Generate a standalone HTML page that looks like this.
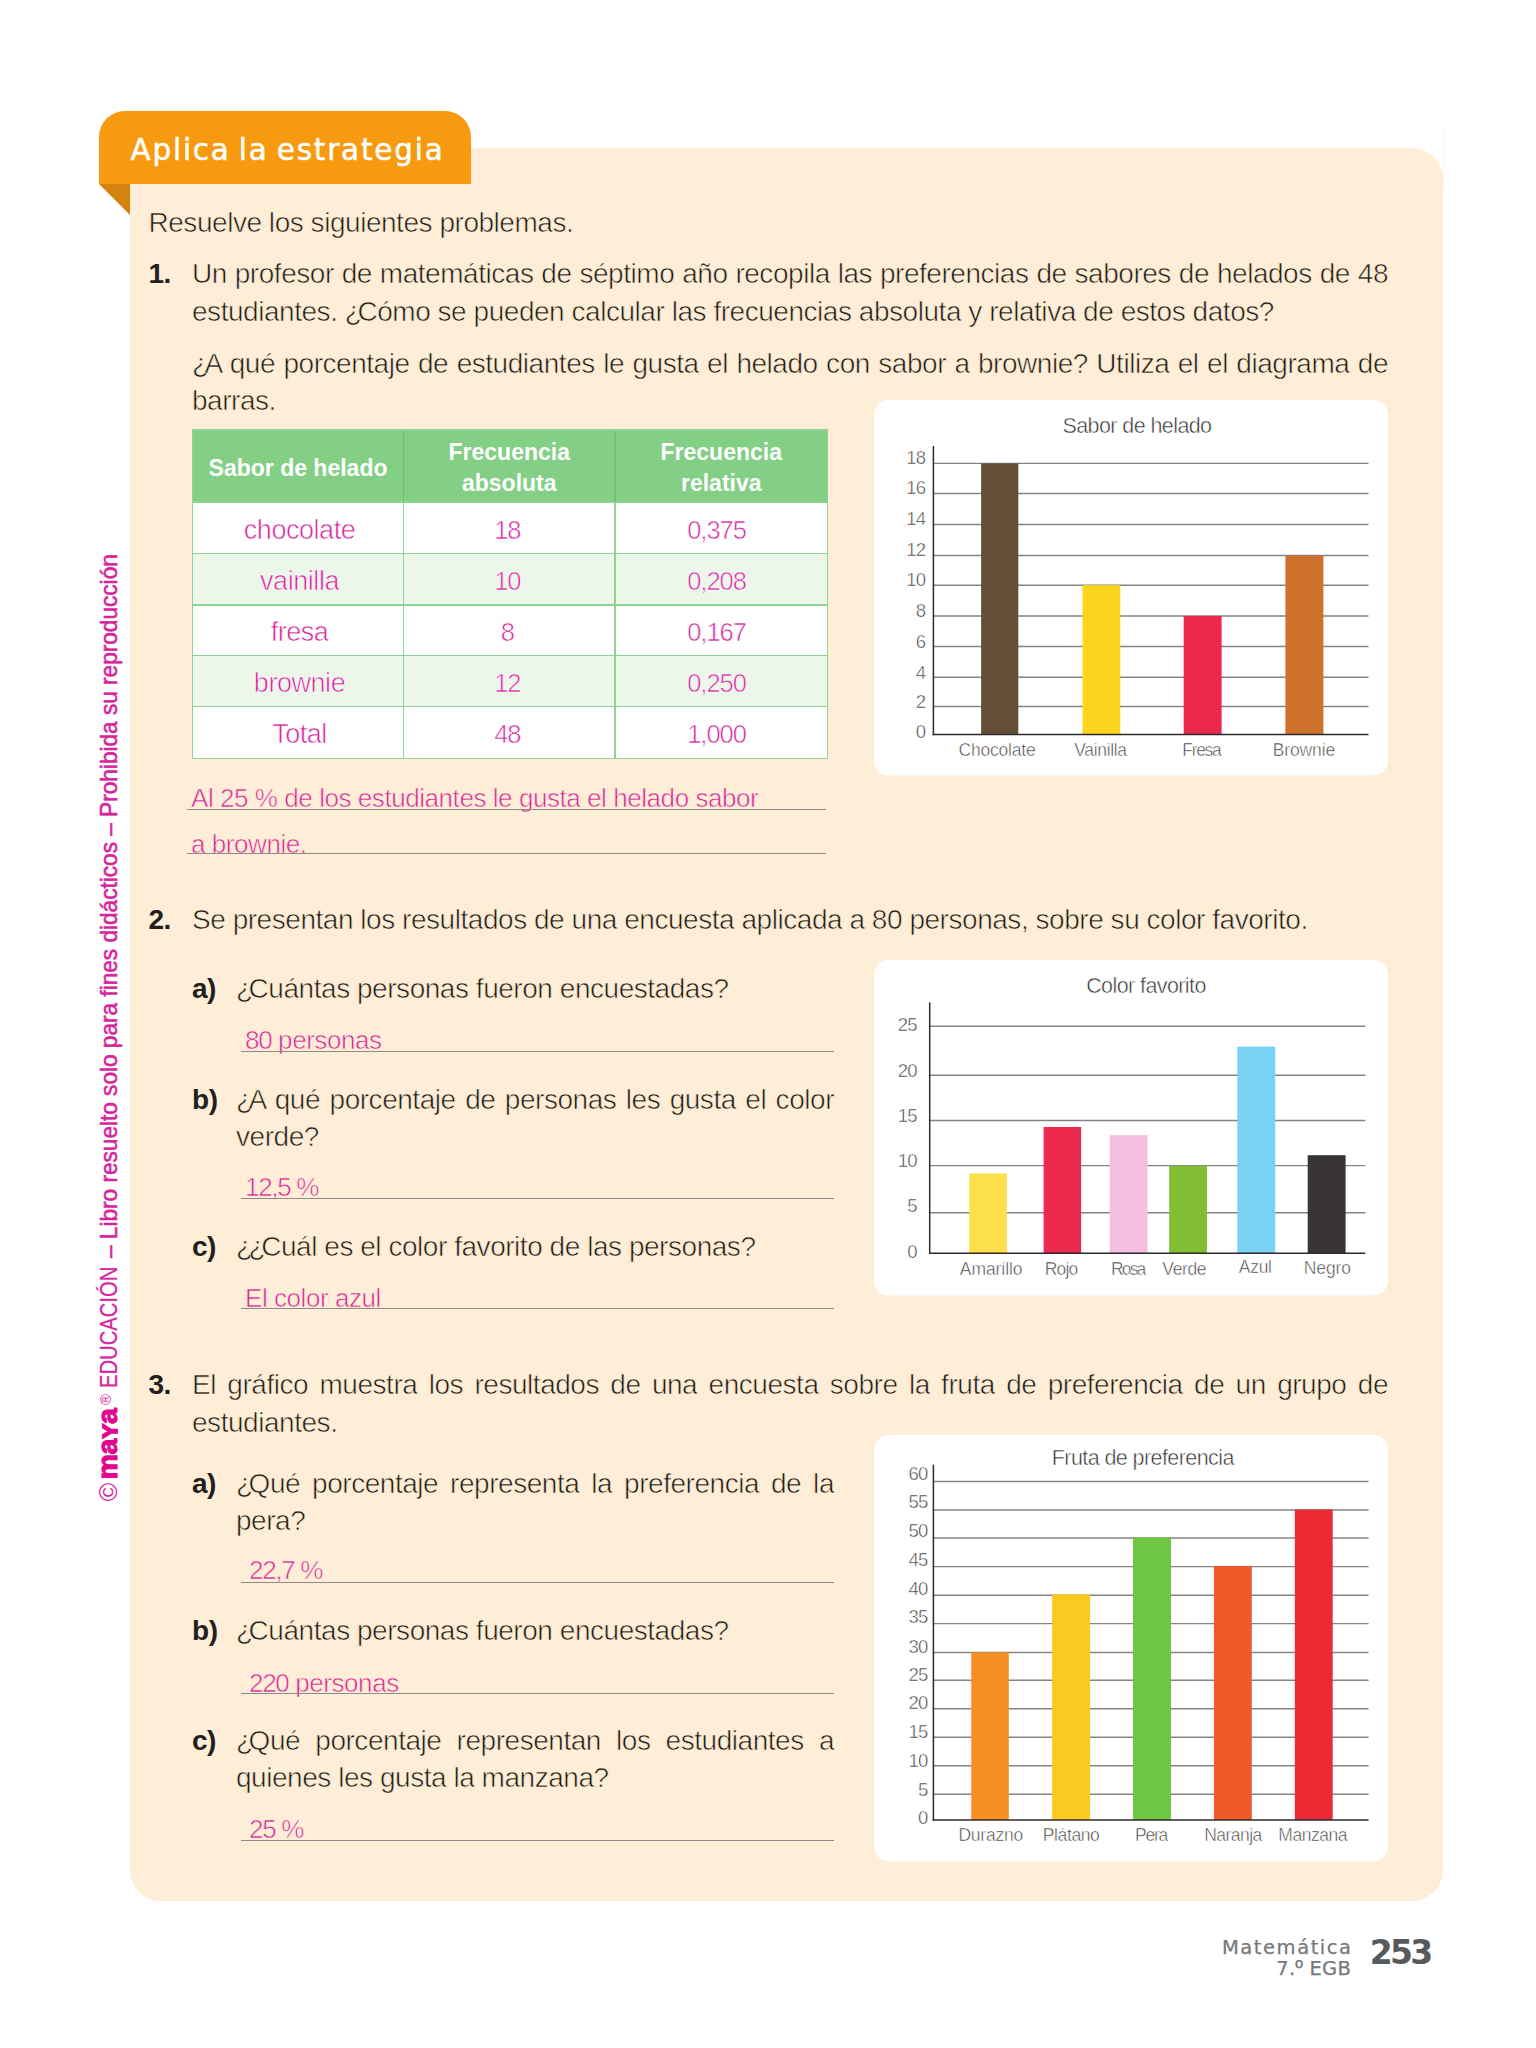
<!DOCTYPE html>
<html lang="es">
<head>
<meta charset="utf-8">
<title>Aplica la estrategia</title>
<style>
html,body{margin:0;padding:0;}
body{width:1536px;height:2048px;position:relative;overflow:hidden;background:#fff;font-family:"Liberation Sans",sans-serif;color:#1f1a19;}
.panel{position:absolute;left:130px;top:148px;width:1313px;height:1752.6px;background:#FEEED7;border-radius:0 31px 31px 31px;}
.tab{position:absolute;left:99px;top:111px;width:372px;height:73px;background:#F79A10;border-radius:26px 26px 0 0;}
.fold{position:absolute;left:99px;top:184px;width:0;height:0;border-style:solid;border-width:0 31px 31px 0;border-color:transparent #D4830F transparent transparent;}
.t.tabt{position:absolute;left:130.5px;top:0;color:#fff;font-family:"DejaVu Sans","Liberation Sans",sans-serif;white-space:nowrap;-webkit-text-stroke:0.5px #fff;}
.t{position:absolute;white-space:nowrap;-webkit-text-stroke:0.6px #FEEED7;}
.b,.hb{-webkit-text-stroke:0;}
.b{font-weight:bold;color:#231f20;}
.m{color:#D6249B;}
.c{text-align:center;}
.nm{letter-spacing:-1px;}
.dg{letter-spacing:-1.3px;}
.iq{letter-spacing:-4.5px;}
.c.m{-webkit-text-stroke-color:#fff;}
.hb{font-weight:bold;color:#fff;}
.ln,.bx{position:absolute;}
.ch{position:absolute;font-family:"Liberation Sans",sans-serif;}
.ct{stroke:#fff;stroke-width:0.5px;}
.ft{font-family:"DejaVu Sans","Liberation Sans",sans-serif;color:#77787b;-webkit-text-stroke:0.25px #77787b;}
.pg{font-family:"DejaVu Sans","Liberation Sans",sans-serif;font-weight:bold;color:#58595b;-webkit-text-stroke:0;}
.side{position:absolute;left:0;top:0;transform-origin:0 0;white-space:nowrap;color:#D6249B;}
</style>
</head>
<body>
<div class="panel"></div>
<div class="tab"></div>
<div class="fold"></div>
<div style="position:absolute;left:1443px;top:128px;width:1px;height:58px;background:#fdf3e8"></div>
<div class="t tabt" style="top:132.23px;font-size:29.4px;line-height:36px;letter-spacing:1.82px;word-spacing:-3px;">Aplica la estrategia</div>
<div class="side" style="left:0;top:1500.4px;width:1000px;height:140px;transform:rotate(-90deg);"><span class="" style="position:absolute;display:block;transform-origin:0 50%;left:-1.2px;top:93.34px;font-size:25px;line-height:30px;">©</span><span class="" style="position:absolute;display:block;transform-origin:0 50%;left:20.4px;top:90.12px;font-size:28.5px;line-height:34px;font-weight:bold;color:#E3068C;-webkit-text-stroke:1.1px #E3068C;letter-spacing:-0.3px;">ma<span style="font-size:21px;text-transform:uppercase;-webkit-text-stroke-width:1.9px;margin:0 0.6px 0 0.8px">y</span>a</span><span class="" style="position:absolute;display:block;transform-origin:0 50%;left:95.1px;top:97.30px;font-size:15px;line-height:18px;">®</span><span class="" style="position:absolute;display:block;transform-origin:0 50%;left:112.4px;top:94.18px;font-size:24px;line-height:29px;transform:scaleX(0.843);-webkit-text-stroke:0.2px #D6249B;">EDUCACIÓN</span><span class="" style="position:absolute;display:block;transform-origin:0 50%;left:241.8px;top:94.18px;font-size:24px;line-height:29px;transform:scaleX(0.942);-webkit-text-stroke:0.55px #D6249B;">– Libro resuelto solo para fines didácticos – Prohibida su reproducción</span></div>
<div class="t " style="left:148.5px;top:206.00px;font-size:28px;line-height:34px;letter-spacing:-0.46px;">Resuelve los siguientes problemas.</div>
<div class="t b" style="left:148.5px;top:257.30px;font-size:28px;line-height:34px;letter-spacing:-0.46px;">1.</div>
<div class="t " style="left:192px;top:257.30px;font-size:28px;line-height:34px;letter-spacing:-0.46px;width:1196px;text-align:justify;text-align-last:justify;">Un profesor de matemáticas de séptimo año recopila las preferencias de sabores de helados de 48</div>
<div class="t " style="left:192px;top:294.80px;font-size:28px;line-height:34px;letter-spacing:-0.46px;">estudiantes. <span class="iq">¿</span>Cómo se pueden calcular las frecuencias absoluta y relativa de estos datos?</div>
<div class="t " style="left:192px;top:346.80px;font-size:28px;line-height:34px;letter-spacing:-0.46px;width:1196px;text-align:justify;text-align-last:justify;"><span class="iq">¿</span>A qué porcentaje de estudiantes le gusta el helado con sabor a brownie? Utiliza el el diagrama de</div>
<div class="t " style="left:192px;top:383.80px;font-size:28px;line-height:34px;letter-spacing:-0.46px;">barras.</div>
<div class="t m" style="left:191px;top:782.99px;font-size:26px;line-height:31px;letter-spacing:-0.44px;">Al 25 % de los estudiantes le gusta el helado sabor</div>
<div class="ln" style="left:187px;top:809px;width:639px;height:1.25px;background:#8d8a87"></div>
<div class="t m" style="left:191px;top:828.79px;font-size:26px;line-height:31px;letter-spacing:-0.44px;">a brownie.</div>
<div class="ln" style="left:187px;top:853px;width:639px;height:1.25px;background:#8d8a87"></div>
<div class="t b" style="left:148.5px;top:903.30px;font-size:28px;line-height:34px;letter-spacing:-0.46px;">2.</div>
<div class="t " style="left:192px;top:903.30px;font-size:28px;line-height:34px;letter-spacing:-0.46px;">Se presentan los resultados de una encuesta aplicada a 80 personas, sobre su color favorito.</div>
<div class="t b" style="left:192px;top:972.30px;font-size:28px;line-height:34px;letter-spacing:-0.46px;">a)</div>
<div class="t " style="left:236px;top:972.30px;font-size:28px;line-height:34px;letter-spacing:-0.46px;"><span class="iq">¿</span>Cuántas personas fueron encuestadas?</div>
<div class="t m" style="left:245px;top:1025.49px;font-size:26px;line-height:31px;letter-spacing:-0.44px;"><span class="dg">80</span> personas</div>
<div class="ln" style="left:240.5px;top:1051px;width:593.5px;height:1.25px;background:#8d8a87"></div>
<div class="t b" style="left:192px;top:1083.30px;font-size:28px;line-height:34px;letter-spacing:-0.46px;">b)</div>
<div class="t " style="left:236px;top:1083.30px;font-size:28px;line-height:34px;letter-spacing:-0.46px;width:598px;text-align:justify;text-align-last:justify;"><span class="iq">¿</span>A qué porcentaje de personas les gusta el color</div>
<div class="t " style="left:236px;top:1119.80px;font-size:28px;line-height:34px;letter-spacing:-0.46px;">verde?</div>
<div class="t m" style="left:245px;top:1171.99px;font-size:26px;line-height:31px;letter-spacing:-0.44px;"><span class="dg">12,5 %</span></div>
<div class="ln" style="left:240.5px;top:1198px;width:593.5px;height:1.25px;background:#8d8a87"></div>
<div class="t b" style="left:192px;top:1230.30px;font-size:28px;line-height:34px;letter-spacing:-0.46px;">c)</div>
<div class="t " style="left:236px;top:1230.30px;font-size:28px;line-height:34px;letter-spacing:-0.46px;"><span class="iq">¿</span><span class="iq">¿</span>Cuál es el color favorito de las personas?</div>
<div class="t m" style="left:245px;top:1283.49px;font-size:26px;line-height:31px;letter-spacing:-0.44px;">El color azul</div>
<div class="ln" style="left:240.5px;top:1308px;width:593.5px;height:1.25px;background:#8d8a87"></div>
<div class="t b" style="left:148.5px;top:1368.30px;font-size:28px;line-height:34px;letter-spacing:-0.46px;">3.</div>
<div class="t " style="left:192px;top:1368.30px;font-size:28px;line-height:34px;letter-spacing:-0.46px;width:1196px;text-align:justify;text-align-last:justify;">El gráfico muestra los resultados de una encuesta sobre la fruta de preferencia de un grupo de</div>
<div class="t " style="left:192px;top:1405.80px;font-size:28px;line-height:34px;letter-spacing:-0.46px;">estudiantes.</div>
<div class="t b" style="left:192px;top:1466.80px;font-size:28px;line-height:34px;letter-spacing:-0.46px;">a)</div>
<div class="t " style="left:236px;top:1466.80px;font-size:28px;line-height:34px;letter-spacing:-0.46px;width:598px;text-align:justify;text-align-last:justify;"><span class="iq">¿</span>Qué porcentaje representa la preferencia de la</div>
<div class="t " style="left:236px;top:1504.30px;font-size:28px;line-height:34px;letter-spacing:-0.46px;">pera?</div>
<div class="t m" style="left:249px;top:1555.49px;font-size:26px;line-height:31px;letter-spacing:-0.44px;"><span class="dg">22,7 %</span></div>
<div class="ln" style="left:240.5px;top:1582px;width:593.5px;height:1.25px;background:#8d8a87"></div>
<div class="t b" style="left:192px;top:1614.30px;font-size:28px;line-height:34px;letter-spacing:-0.46px;">b)</div>
<div class="t " style="left:236px;top:1614.30px;font-size:28px;line-height:34px;letter-spacing:-0.46px;"><span class="iq">¿</span>Cuántas personas fueron encuestadas?</div>
<div class="t m" style="left:249px;top:1667.99px;font-size:26px;line-height:31px;letter-spacing:-0.44px;"><span class="dg">220</span> personas</div>
<div class="ln" style="left:240.5px;top:1693px;width:593.5px;height:1.25px;background:#8d8a87"></div>
<div class="t b" style="left:192px;top:1724.30px;font-size:28px;line-height:34px;letter-spacing:-0.46px;">c)</div>
<div class="t " style="left:236px;top:1724.30px;font-size:28px;line-height:34px;letter-spacing:-0.46px;width:598px;text-align:justify;text-align-last:justify;"><span class="iq">¿</span>Qué porcentaje representan los estudiantes a</div>
<div class="t " style="left:236px;top:1760.80px;font-size:28px;line-height:34px;letter-spacing:-0.46px;">quienes les gusta la manzana?</div>
<div class="t m" style="left:249px;top:1814.49px;font-size:26px;line-height:31px;letter-spacing:-0.44px;"><span class="dg">25 %</span></div>
<div class="ln" style="left:240.5px;top:1840px;width:593.5px;height:1.25px;background:#8d8a87"></div>
<div class="bx" style="left:192.6px;top:430px;width:634.9px;height:72px;background:#82CF85"></div>
<div class="bx" style="left:192.6px;top:502px;width:634.9px;height:51.5px;background:#fff"></div>
<div class="bx" style="left:192.6px;top:553.5px;width:634.9px;height:51.5px;background:#ECF7EA"></div>
<div class="bx" style="left:192.6px;top:605px;width:634.9px;height:50.5px;background:#fff"></div>
<div class="bx" style="left:192.6px;top:655.5px;width:634.9px;height:51.0px;background:#ECF7EA"></div>
<div class="bx" style="left:192.6px;top:706.5px;width:634.9px;height:52.0px;background:#fff"></div>
<div class="bx" style="left:191.6px;top:501.2px;width:636.5px;height:1.6px;background:#8ed391"></div>
<div class="bx" style="left:191.6px;top:552.7px;width:636.5px;height:1.6px;background:#8ed391"></div>
<div class="bx" style="left:191.6px;top:604.2px;width:636.5px;height:1.6px;background:#8ed391"></div>
<div class="bx" style="left:191.6px;top:654.7px;width:636.5px;height:1.6px;background:#8ed391"></div>
<div class="bx" style="left:191.6px;top:705.7px;width:636.5px;height:1.6px;background:#8ed391"></div>
<div class="bx" style="left:191.6px;top:757.7px;width:636.5px;height:1.6px;background:#8ed391"></div>
<div class="bx" style="left:191.79999999999998px;top:502px;width:1.6px;height:256.5px;background:#8ed391"></div>
<div class="bx" style="left:402.7px;top:502px;width:1.6px;height:256.5px;background:#8ed391"></div>
<div class="bx" style="left:614.2px;top:502px;width:1.6px;height:256.5px;background:#8ed391"></div>
<div class="bx" style="left:826.7px;top:502px;width:1.6px;height:256.5px;background:#8ed391"></div>
<div class="bx" style="left:402.7px;top:430px;width:1.6px;height:72px;background:#6fc173"></div>
<div class="bx" style="left:614.2px;top:430px;width:1.6px;height:72px;background:#6fc173"></div>
<div class="bx" style="left:191.79999999999998px;top:429.2px;width:636.5px;height:1.6px;background:#8ed391"></div>
<div class="bx" style="left:191.79999999999998px;top:430px;width:1.6px;height:72px;background:#8ed391"></div>
<div class="bx" style="left:826.7px;top:430px;width:1.6px;height:72px;background:#8ed391"></div>
<div class="t hb c" style="left:192.6px;top:454.03px;font-size:23px;line-height:28px;width:210.9px;">Sabor de helado</div>
<div class="t hb c" style="left:403.5px;top:438.03px;font-size:23px;line-height:28px;width:211.5px;">Frecuencia</div>
<div class="t hb c" style="left:403.5px;top:469.03px;font-size:23px;line-height:28px;width:211.5px;">absoluta</div>
<div class="t hb c" style="left:615px;top:438.03px;font-size:23px;line-height:28px;width:212.5px;">Frecuencia</div>
<div class="t hb c" style="left:615px;top:469.03px;font-size:23px;line-height:28px;width:212.5px;">relativa</div>
<div class="t m c" style="left:194.1px;top:514.14px;font-size:27px;line-height:32px;letter-spacing:-0.45px;width:210.9px;">chocolate</div>
<div class="t m nm c" style="left:401.6px;top:515.16px;font-size:25.5px;line-height:31px;width:211.5px;">18</div>
<div class="t m nm c" style="left:610.3px;top:515.16px;font-size:25.5px;line-height:31px;width:212.5px;">0,375</div>
<div class="t m c" style="left:194.1px;top:565.14px;font-size:27px;line-height:32px;letter-spacing:-0.45px;width:210.9px;">vainilla</div>
<div class="t m nm c" style="left:401.6px;top:566.16px;font-size:25.5px;line-height:31px;width:211.5px;">10</div>
<div class="t m nm c" style="left:610.3px;top:566.16px;font-size:25.5px;line-height:31px;width:212.5px;">0,208</div>
<div class="t m c" style="left:194.1px;top:616.14px;font-size:27px;line-height:32px;letter-spacing:-0.45px;width:210.9px;">fresa</div>
<div class="t m nm c" style="left:401.6px;top:617.16px;font-size:25.5px;line-height:31px;width:211.5px;">8</div>
<div class="t m nm c" style="left:610.3px;top:617.16px;font-size:25.5px;line-height:31px;width:212.5px;">0,167</div>
<div class="t m c" style="left:194.1px;top:667.14px;font-size:27px;line-height:32px;letter-spacing:-0.45px;width:210.9px;">brownie</div>
<div class="t m nm c" style="left:401.6px;top:668.16px;font-size:25.5px;line-height:31px;width:211.5px;">12</div>
<div class="t m nm c" style="left:610.3px;top:668.16px;font-size:25.5px;line-height:31px;width:212.5px;">0,250</div>
<div class="t m c" style="left:194.1px;top:718.14px;font-size:27px;line-height:32px;letter-spacing:-0.45px;width:210.9px;">Total</div>
<div class="t m nm c" style="left:401.6px;top:719.16px;font-size:25.5px;line-height:31px;width:211.5px;">48</div>
<div class="t m nm c" style="left:610.3px;top:719.16px;font-size:25.5px;line-height:31px;width:212.5px;">1,000</div>
<svg class="ch" style="left:874px;top:400px" width="514" height="375.6" viewBox="874 400 514 375.6"><rect x="874" y="400" width="514" height="375.6" rx="15" ry="15" fill="#fff"/><line x1="933.4" y1="463.4" x2="1368.5" y2="463.4" stroke="#858283" stroke-width="1.45"/><line x1="933.4" y1="493.6" x2="1368.5" y2="493.6" stroke="#858283" stroke-width="1.45"/><line x1="933.4" y1="524.6" x2="1368.5" y2="524.6" stroke="#858283" stroke-width="1.45"/><line x1="933.4" y1="555.6" x2="1368.5" y2="555.6" stroke="#858283" stroke-width="1.45"/><line x1="933.4" y1="585.2" x2="1368.5" y2="585.2" stroke="#858283" stroke-width="1.45"/><line x1="933.4" y1="616" x2="1368.5" y2="616" stroke="#858283" stroke-width="1.45"/><line x1="933.4" y1="646.6" x2="1368.5" y2="646.6" stroke="#858283" stroke-width="1.45"/><line x1="933.4" y1="677.3" x2="1368.5" y2="677.3" stroke="#858283" stroke-width="1.45"/><line x1="933.4" y1="706.6" x2="1368.5" y2="706.6" stroke="#858283" stroke-width="1.45"/><rect x="981.1" y="463.4" width="37.2" height="271.1" fill="#644F36"/><rect x="1082.4" y="585.2" width="37.9" height="149.3" fill="#FDD51E"/><rect x="1183.7" y="616" width="37.9" height="118.5" fill="#EC294C"/><rect x="1285.4" y="555.6" width="38.0" height="178.9" fill="#CE712D"/><line x1="933.4" y1="445.9" x2="933.4" y2="735.2" stroke="#2f2b2c" stroke-width="1.5"/><line x1="932.65" y1="734.5" x2="1368.5" y2="734.5" stroke="#2f2b2c" stroke-width="1.5"/><text class="ct" x="1137" y="433.1" text-anchor="middle" font-size="21.5" letter-spacing="-0.58" fill="#332f30">Sabor de helado</text><text class="ct" x="925.1" y="464.1" text-anchor="end" font-size="18.6" letter-spacing="-0.9" fill="#3d393a">18</text><text class="ct" x="925.1" y="494.3" text-anchor="end" font-size="18.6" letter-spacing="-0.9" fill="#3d393a">16</text><text class="ct" x="925.1" y="525.3" text-anchor="end" font-size="18.6" letter-spacing="-0.9" fill="#3d393a">14</text><text class="ct" x="925.1" y="556.5" text-anchor="end" font-size="18.6" letter-spacing="-0.9" fill="#3d393a">12</text><text class="ct" x="925.1" y="586.2" text-anchor="end" font-size="18.6" letter-spacing="-0.9" fill="#3d393a">10</text><text class="ct" x="925.1" y="617.1" text-anchor="end" font-size="18.6" letter-spacing="-0.9" fill="#3d393a">8</text><text class="ct" x="925.1" y="647.8" text-anchor="end" font-size="18.6" letter-spacing="-0.9" fill="#3d393a">6</text><text class="ct" x="925.1" y="678.6" text-anchor="end" font-size="18.6" letter-spacing="-0.9" fill="#3d393a">4</text><text class="ct" x="925.1" y="708.0" text-anchor="end" font-size="18.6" letter-spacing="-0.9" fill="#3d393a">2</text><text class="ct" x="925.1" y="737.9" text-anchor="end" font-size="18.6" letter-spacing="-0.9" fill="#3d393a">0</text><text class="ct" x="997.1" y="755.8" text-anchor="middle" font-size="17.5" textLength="77.1" fill="#3d393a">Chocolate</text><text class="ct" x="1100.7" y="755.8" text-anchor="middle" font-size="17.5" textLength="52.8" fill="#3d393a">Vainilla</text><text class="ct" x="1202" y="755.8" text-anchor="middle" font-size="17.5" textLength="39.4" fill="#3d393a">Fresa</text><text class="ct" x="1304" y="755.8" text-anchor="middle" font-size="17.5" textLength="62.4" fill="#3d393a">Brownie</text></svg>
<svg class="ch" style="left:874px;top:960px" width="514" height="335.5999999999999" viewBox="874 960 514 335.5999999999999"><rect x="874" y="960" width="514" height="335.5999999999999" rx="15" ry="15" fill="#fff"/><line x1="929.7" y1="1026.2" x2="1365.3" y2="1026.2" stroke="#858283" stroke-width="1.45"/><line x1="929.7" y1="1075.3" x2="1365.3" y2="1075.3" stroke="#858283" stroke-width="1.45"/><line x1="929.7" y1="1120.5" x2="1365.3" y2="1120.5" stroke="#858283" stroke-width="1.45"/><line x1="929.7" y1="1165.65" x2="1365.3" y2="1165.65" stroke="#858283" stroke-width="1.45"/><line x1="929.7" y1="1212.7" x2="1365.3" y2="1212.7" stroke="#858283" stroke-width="1.45"/><rect x="969.2" y="1173.5" width="37.7" height="79.8" fill="#FDDF49"/><rect x="1043.6" y="1127" width="37.5" height="126.3" fill="#EC2A4E"/><rect x="1109.7" y="1135.2" width="37.9" height="118.1" fill="#F3BEDF"/><rect x="1169.2" y="1165.8" width="37.8" height="87.5" fill="#81BE34"/><rect x="1237.3" y="1046.6" width="37.9" height="206.7" fill="#79D1F3"/><rect x="1307.7" y="1155.2" width="37.9" height="98.1" fill="#393536"/><line x1="929.7" y1="1002.4" x2="929.7" y2="1254.0" stroke="#2f2b2c" stroke-width="1.5"/><line x1="928.95" y1="1253.3" x2="1365.3" y2="1253.3" stroke="#2f2b2c" stroke-width="1.5"/><text class="ct" x="1146" y="993.2" text-anchor="middle" font-size="21.5" letter-spacing="-0.58" fill="#332f30">Color favorito</text><text class="ct" x="916.7" y="1031.4" text-anchor="end" font-size="18.6" letter-spacing="-0.9" fill="#3d393a">25</text><text class="ct" x="916.7" y="1076.6" text-anchor="end" font-size="18.6" letter-spacing="-0.9" fill="#3d393a">20</text><text class="ct" x="916.7" y="1121.8" text-anchor="end" font-size="18.6" letter-spacing="-0.9" fill="#3d393a">15</text><text class="ct" x="916.7" y="1167.0" text-anchor="end" font-size="18.6" letter-spacing="-0.9" fill="#3d393a">10</text><text class="ct" x="916.7" y="1212.3" text-anchor="end" font-size="18.6" letter-spacing="-0.9" fill="#3d393a">5</text><text class="ct" x="916.7" y="1257.8" text-anchor="end" font-size="18.6" letter-spacing="-0.9" fill="#3d393a">0</text><text class="ct" x="991.2" y="1275" text-anchor="middle" font-size="17.5" textLength="62.8" fill="#3d393a">Amarillo</text><text class="ct" x="1061.5" y="1275" text-anchor="middle" font-size="17.5" textLength="33.4" fill="#3d393a">Rojo</text><text class="ct" x="1128.6" y="1275" text-anchor="middle" font-size="17.5" textLength="35.4" fill="#3d393a">Rosa</text><text class="ct" x="1184.4" y="1275" text-anchor="middle" font-size="17.5" textLength="44.1" fill="#3d393a">Verde</text><text class="ct" x="1255.4" y="1273.5" text-anchor="middle" font-size="17.5" textLength="33.2" fill="#3d393a">Azul</text><text class="ct" x="1327.4" y="1274.5" text-anchor="middle" font-size="17.5" textLength="47.1" fill="#3d393a">Negro</text></svg>
<svg class="ch" style="left:874px;top:1435px" width="514" height="426.5" viewBox="874 1435 514 426.5"><rect x="874" y="1435" width="514" height="426.5" rx="15" ry="15" fill="#fff"/><line x1="933.4" y1="1481.4" x2="1368.6" y2="1481.4" stroke="#858283" stroke-width="1.45"/><line x1="933.4" y1="1509.9" x2="1368.6" y2="1509.9" stroke="#858283" stroke-width="1.45"/><line x1="933.4" y1="1537.9" x2="1368.6" y2="1537.9" stroke="#858283" stroke-width="1.45"/><line x1="933.4" y1="1566.6" x2="1368.6" y2="1566.6" stroke="#858283" stroke-width="1.45"/><line x1="933.4" y1="1595.2" x2="1368.6" y2="1595.2" stroke="#858283" stroke-width="1.45"/><line x1="933.4" y1="1623.6" x2="1368.6" y2="1623.6" stroke="#858283" stroke-width="1.45"/><line x1="933.4" y1="1652.4" x2="1368.6" y2="1652.4" stroke="#858283" stroke-width="1.45"/><line x1="933.4" y1="1680.2" x2="1368.6" y2="1680.2" stroke="#858283" stroke-width="1.45"/><line x1="933.4" y1="1708.7" x2="1368.6" y2="1708.7" stroke="#858283" stroke-width="1.45"/><line x1="933.4" y1="1737.2" x2="1368.6" y2="1737.2" stroke="#858283" stroke-width="1.45"/><line x1="933.4" y1="1765.7" x2="1368.6" y2="1765.7" stroke="#858283" stroke-width="1.45"/><line x1="933.4" y1="1794.2" x2="1368.6" y2="1794.2" stroke="#858283" stroke-width="1.45"/><rect x="971.3" y="1652.4" width="37.5" height="167.6" fill="#F68E22"/><rect x="1052.1" y="1594.4" width="38.0" height="225.6" fill="#FACA21"/><rect x="1133" y="1537.6" width="38.0" height="282.4" fill="#70C743"/><rect x="1213.9" y="1566" width="37.9" height="254.0" fill="#F05A2A"/><rect x="1294.8" y="1509.5" width="37.9" height="310.5" fill="#EC2A34"/><line x1="933.4" y1="1464.7" x2="933.4" y2="1820.7" stroke="#2f2b2c" stroke-width="1.5"/><line x1="932.65" y1="1820" x2="1368.6" y2="1820" stroke="#2f2b2c" stroke-width="1.5"/><text class="ct" x="1142.8" y="1464.5" text-anchor="middle" font-size="21.5" letter-spacing="-0.58" fill="#332f30">Fruta de preferencia</text><text class="ct" x="927.5" y="1479.5" text-anchor="end" font-size="18.6" letter-spacing="-0.9" fill="#3d393a">60</text><text class="ct" x="927.5" y="1508.3" text-anchor="end" font-size="18.6" letter-spacing="-0.9" fill="#3d393a">55</text><text class="ct" x="927.5" y="1536.7" text-anchor="end" font-size="18.6" letter-spacing="-0.9" fill="#3d393a">50</text><text class="ct" x="927.5" y="1565.7" text-anchor="end" font-size="18.6" letter-spacing="-0.9" fill="#3d393a">45</text><text class="ct" x="927.5" y="1594.6" text-anchor="end" font-size="18.6" letter-spacing="-0.9" fill="#3d393a">40</text><text class="ct" x="927.5" y="1623.3" text-anchor="end" font-size="18.6" letter-spacing="-0.9" fill="#3d393a">35</text><text class="ct" x="927.5" y="1652.5" text-anchor="end" font-size="18.6" letter-spacing="-0.9" fill="#3d393a">30</text><text class="ct" x="927.5" y="1680.6" text-anchor="end" font-size="18.6" letter-spacing="-0.9" fill="#3d393a">25</text><text class="ct" x="927.5" y="1709.4" text-anchor="end" font-size="18.6" letter-spacing="-0.9" fill="#3d393a">20</text><text class="ct" x="927.5" y="1738.3" text-anchor="end" font-size="18.6" letter-spacing="-0.9" fill="#3d393a">15</text><text class="ct" x="927.5" y="1767.1" text-anchor="end" font-size="18.6" letter-spacing="-0.9" fill="#3d393a">10</text><text class="ct" x="927.5" y="1795.9" text-anchor="end" font-size="18.6" letter-spacing="-0.9" fill="#3d393a">5</text><text class="ct" x="927.5" y="1824.3" text-anchor="end" font-size="18.6" letter-spacing="-0.9" fill="#3d393a">0</text><text class="ct" x="990.8" y="1841" text-anchor="middle" font-size="17.5" textLength="64.8" fill="#3d393a">Durazno</text><text class="ct" x="1071.3" y="1841" text-anchor="middle" font-size="17.5" textLength="57.0" fill="#3d393a">Plátano</text><text class="ct" x="1151.6" y="1841" text-anchor="middle" font-size="17.5" textLength="33.1" fill="#3d393a">Pera</text><text class="ct" x="1233.2" y="1841" text-anchor="middle" font-size="17.5" textLength="58.1" fill="#3d393a">Naranja</text><text class="ct" x="1312.9" y="1841" text-anchor="middle" font-size="17.5" textLength="69.1" fill="#3d393a">Manzana</text></svg>
<div class="t ft" style="left:1152.6px;top:1935.85px;font-size:19.5px;line-height:23px;width:200px;text-align:right;letter-spacing:1.55px;">Matemática</div>
<div class="t ft" style="left:1151px;top:1957.25px;font-size:19.5px;line-height:23px;width:200px;text-align:right;letter-spacing:0.2px;">7.<span style="font-family:'Liberation Sans',sans-serif;font-size:21px;line-height:0">º</span> EGB</div>
<div class="t pg" style="left:1369.8px;top:1932.58px;font-size:33px;line-height:40px;letter-spacing:-2.7px;">253</div>
</body>
</html>
